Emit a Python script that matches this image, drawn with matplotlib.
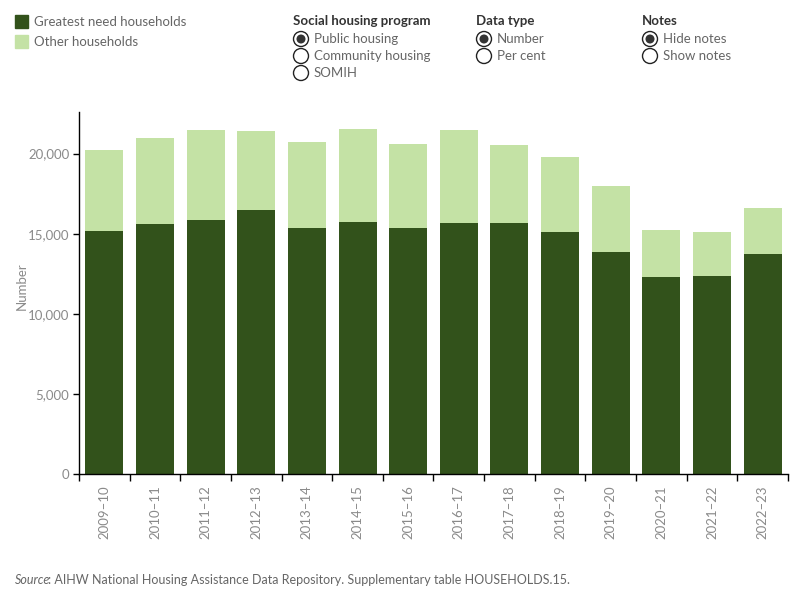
import matplotlib
matplotlib.use("Agg")
import matplotlib.pyplot as plt
from matplotlib.patches import Circle, Rectangle
from matplotlib.ticker import FuncFormatter

years = ["2009–10", "2010–11", "2011–12", "2012–13", "2013–14", "2014–15", "2015–16",
         "2016–17", "2017–18", "2018–19", "2019–20", "2020–21", "2021–22", "2022–23"]
greatest_need = [15140, 15580, 15830, 16460, 15330, 15710, 15330,
                 15640, 15640, 15080, 13830, 12330, 12390, 13710]
totals = [20200, 20960, 21460, 21400, 20710, 21520, 20580,
          21460, 20520, 19770, 17960, 15210, 15080, 16580]
other = [t - g for t, g in zip(totals, greatest_need)]

DARK = "#32521B"
LIGHT = "#C4E2A5"
TXT = "#666666"
FONT = "Lato"
plt.rcParams["font.family"] = [FONT, "DejaVu Sans"]

fig = plt.figure(figsize=(8, 6), dpi=100)
ax = fig.add_axes([79/800, 1-474/600, (788-79)/800, (474-112)/600])
x = list(range(len(years)))
ax.bar(x, greatest_need, width=0.75, color=DARK, zorder=2)
ax.bar(x, other, bottom=greatest_need, width=0.75, color=LIGHT, zorder=2)
ax.set_xlim(-0.5, len(years)-0.5)
ax.set_ylim(0, 22600)
ax.set_yticks([0, 5000, 10000, 15000, 20000])
ax.yaxis.set_major_formatter(FuncFormatter(lambda v, p: f"{int(v):,}"))
ax.tick_params(axis="y", length=4, width=1, color="black", labelsize=9.5, labelcolor="#8a8a8a", pad=3)
ax.set_xticks(x)
ax.set_xticklabels(years, rotation=90, fontsize=9.5, color="#8a8a8a")
ax.tick_params(axis="x", which="major", length=0, pad=8)
ax.set_xticks([i - 0.5 for i in range(len(years)+1)], minor=True)
ax.tick_params(axis="x", which="minor", length=5, width=1, color="black")
for s in ["top", "right"]:
    ax.spines[s].set_visible(False)
for s in ["left", "bottom"]:
    ax.spines[s].set_color("black")
    ax.spines[s].set_linewidth(1)
ax.set_ylabel("Number", fontsize=9.5, color="#8a8a8a")
ax.yaxis.set_label_coords((28 - 79) / 709, 0.52)

# overlay for legend / controls / source
ov = fig.add_axes([0, 0, 1, 1], zorder=-1)
ov.set_xlim(0, 800)
ov.set_ylim(600, 0)
ov.axis("off")

ov.add_patch(Rectangle((15, 15), 13, 13, color=DARK))
ov.add_patch(Rectangle((15, 35), 13, 13, color=LIGHT))
ov.text(34, 22, "Greatest need households", fontsize=9.5, color=TXT, va="center")
ov.text(34, 42, "Other households", fontsize=9.5, color=TXT, va="center")

groups = [
    (293, "Social housing program", ["Public housing", "Community housing", "SOMIH"]),
    (476, "Data type", ["Number", "Per cent"]),
    (642, "Notes", ["Hide notes", "Show notes"]),
]
for gx, title, opts in groups:
    ov.text(gx, 21, title, fontsize=9.5, fontweight="bold", color="#333333", va="center")
    for i, o in enumerate(opts):
        cy = 39 + i * 17
        ov.add_patch(Circle((gx + 8, cy), 7.5, facecolor="white", edgecolor="#222222", lw=1))
        if i == 0:
            ov.add_patch(Circle((gx + 8, cy), 4.5, facecolor="#333333", edgecolor="none"))
        ov.text(gx + 21, cy, o, fontsize=9.5, color=TXT, va="center")

ov.text(15, 580, "Source", fontsize=9, color=TXT, va="center", style="italic")
ov.text(48, 580, ": AIHW National Housing Assistance Data Repository. Supplementary table HOUSEHOLDS.15.",
        fontsize=9, color=TXT, va="center")

fig.savefig("out.png", dpi=100)
